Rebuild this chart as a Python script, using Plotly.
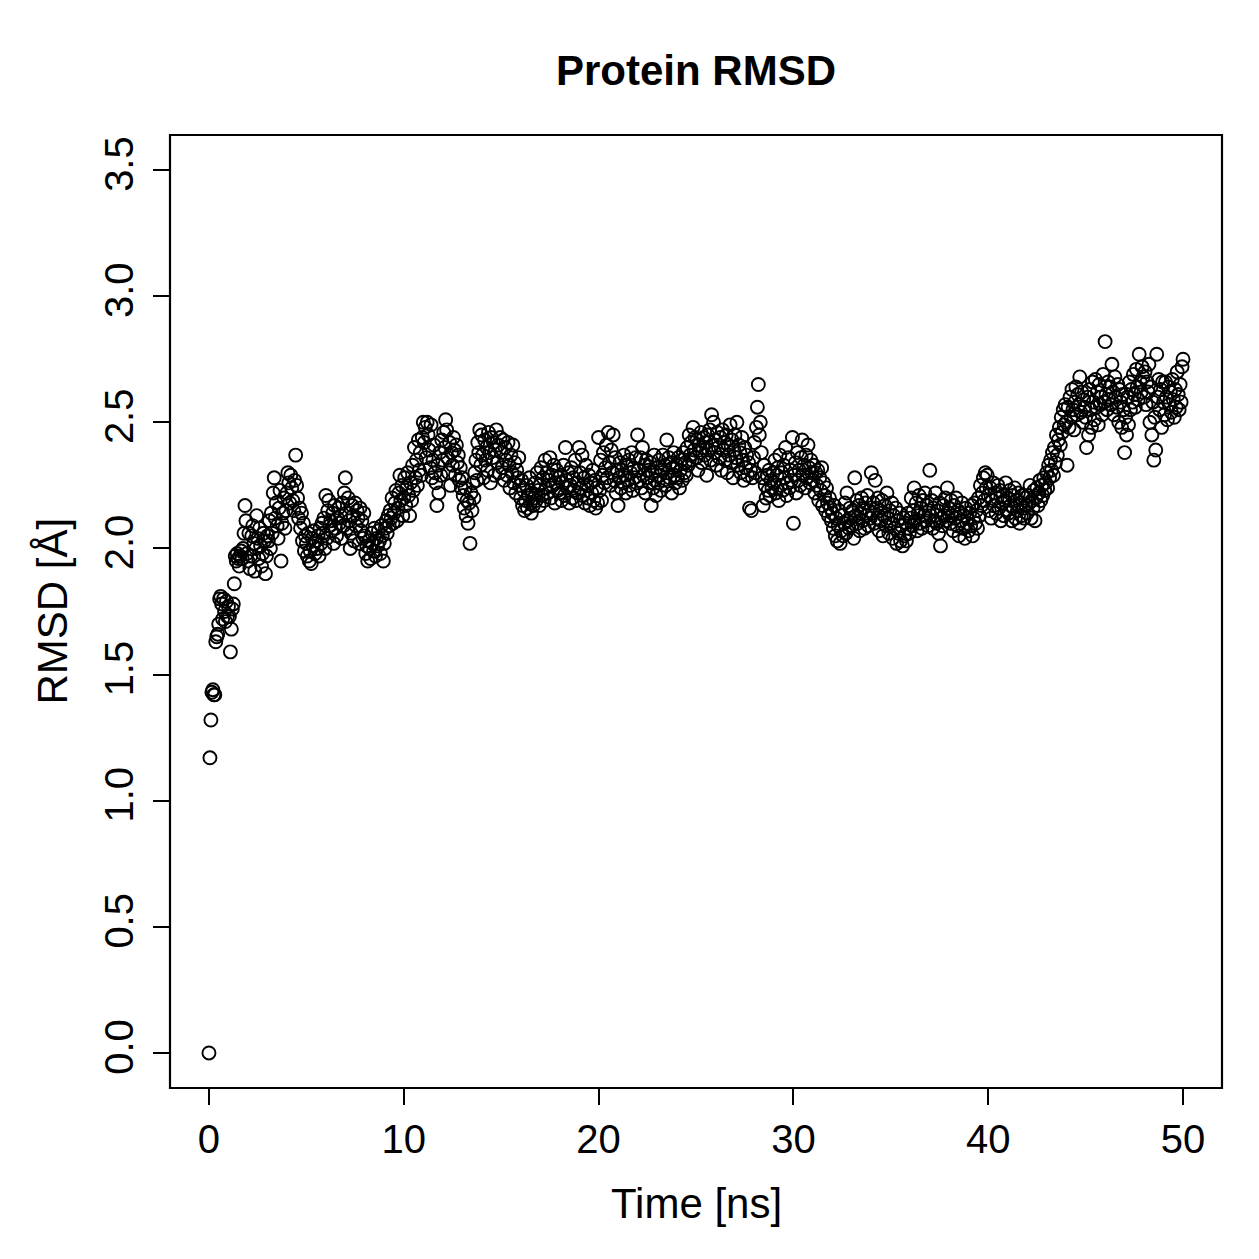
import numpy as np
import plotly.graph_objects as go

# sampling step of the trajectory (ns)
time_step = 0.05

rmsd = [
    0.00, 1.17, 1.32, 1.43, 1.44, 1.42, 1.42, 1.63, 1.65, 1.66, 1.70, 1.80, 1.81, 1.78, 1.72, 1.80, 1.75, 1.71, 1.79, 1.73,
    1.77, 1.73, 1.59, 1.68, 1.76, 1.78, 1.86, 1.97, 1.95, 1.98, 1.96, 1.93, 1.97, 1.99, 1.96, 2.00, 2.06, 2.17, 2.11, 1.98,
    1.95, 2.06, 1.92, 1.97, 2.05, 2.09, 2.02, 1.91, 2.00, 2.13, 2.04, 1.96, 2.08, 2.01, 1.93, 1.98, 2.06, 2.03, 1.90, 1.97,
    2.05, 2.03, 2.11, 2.00, 2.14, 2.06, 2.22, 2.28, 2.12, 2.18, 2.09, 2.04, 2.16, 2.23, 1.95, 2.10, 2.14, 2.20, 2.08, 2.15,
    2.22, 2.30, 2.26, 2.18, 2.29, 2.24, 2.19, 2.15, 2.27, 2.37, 2.25, 2.20, 2.12, 2.16, 2.08, 2.14, 2.03, 2.10, 1.99, 2.05,
    2.02, 1.97, 2.06, 1.95, 1.99, 1.94, 2.04, 2.01, 2.07, 1.98, 2.03, 2.00, 2.05, 1.97, 2.08, 2.02, 2.10, 2.06, 2.12, 2.00,
    2.21, 2.04, 2.15, 2.19, 2.09, 2.11, 2.07, 2.14, 2.02, 2.17, 2.08, 2.05, 2.12, 2.16, 2.10, 2.13, 2.04, 2.18, 2.09, 2.22,
    2.28, 2.14, 2.08, 2.20, 2.11, 2.00, 2.06, 2.17, 2.13, 2.03, 2.18, 2.09, 2.15, 2.12, 2.02, 2.16, 2.07, 2.11, 2.04, 2.14,
    2.05, 1.98, 2.01, 1.95, 2.03, 2.00, 1.96, 2.06, 2.02, 1.99, 2.08, 1.97, 2.04, 2.01, 2.07, 2.03, 1.98, 2.09, 2.05, 1.95,
    2.02, 2.08, 2.11, 2.06, 2.13, 2.09, 2.15, 2.12, 2.20, 2.10, 2.14, 2.18, 2.23, 2.11, 2.16, 2.22, 2.29, 2.19, 2.25, 2.13,
    2.20, 2.28, 2.17, 2.24, 2.30, 2.21, 2.13, 2.26, 2.19, 2.33, 2.23, 2.40, 2.28, 2.35, 2.25, 2.43, 2.31, 2.38, 2.29, 2.44,
    2.50, 2.42, 2.48, 2.36, 2.50, 2.45, 2.39, 2.32, 2.49, 2.28, 2.35, 2.41, 2.30, 2.26, 2.17, 2.33, 2.22, 2.38, 2.29, 2.43,
    2.35, 2.46, 2.40, 2.51, 2.47, 2.36, 2.30, 2.42, 2.25, 2.38, 2.33, 2.44, 2.39, 2.29, 2.41, 2.34, 2.37, 2.27, 2.32, 2.24,
    2.28, 2.21, 2.16, 2.24, 2.13, 2.19, 2.10, 2.18, 2.02, 2.22, 2.15, 2.26, 2.20, 2.30, 2.35, 2.27, 2.42, 2.38, 2.47, 2.33,
    2.45, 2.37, 2.28, 2.43, 2.35, 2.40, 2.31, 2.46, 2.38, 2.26, 2.44, 2.36, 2.42, 2.29, 2.39, 2.47, 2.34, 2.41, 2.30, 2.44,
    2.38, 2.32, 2.43, 2.27, 2.40, 2.35, 2.29, 2.42, 2.33, 2.24, 2.37, 2.30, 2.41, 2.26, 2.34, 2.22, 2.31, 2.28, 2.36, 2.25,
    2.20, 2.27, 2.17, 2.23, 2.15, 2.19, 2.25, 2.16, 2.21, 2.28, 2.18, 2.14, 2.22, 2.17, 2.20, 2.26, 2.19, 2.30, 2.23, 2.17,
    2.25, 2.32, 2.21, 2.28, 2.19, 2.35, 2.24, 2.30, 2.22, 2.27, 2.36, 2.20, 2.29, 2.25, 2.33, 2.18, 2.26, 2.31, 2.23, 2.28,
    2.22, 2.29, 2.19, 2.26, 2.33, 2.21, 2.40, 2.27, 2.24, 2.30, 2.18, 2.25, 2.32, 2.20, 2.28, 2.23, 2.35, 2.19, 2.26, 2.22,
    2.40, 2.30, 2.24, 2.37, 2.21, 2.28, 2.18, 2.33, 2.25, 2.20, 2.29, 2.17, 2.26, 2.22, 2.31, 2.19, 2.27, 2.16, 2.24, 2.18,
    2.44, 2.23, 2.35, 2.19, 2.29, 2.38, 2.26, 2.32, 2.41, 2.28, 2.46, 2.34, 2.25, 2.39, 2.30, 2.45, 2.27, 2.36, 2.22, 2.31,
    2.17, 2.28, 2.34, 2.24, 2.31, 2.26, 2.37, 2.29, 2.22, 2.33, 2.27, 2.35, 2.25, 2.30, 2.38, 2.23, 2.32, 2.28, 2.36, 2.26,
    2.45, 2.31, 2.27, 2.36, 2.24, 2.40, 2.29, 2.33, 2.22, 2.35, 2.28, 2.31, 2.26, 2.34, 2.17, 2.30, 2.24, 2.37, 2.27, 2.21,
    2.32, 2.26, 2.35, 2.29, 2.23, 2.31, 2.37, 2.27, 2.33, 2.25, 2.43, 2.30, 2.36, 2.28, 2.34, 2.22, 2.32, 2.38, 2.29, 2.26,
    2.33, 2.28, 2.36, 2.24, 2.31, 2.35, 2.27, 2.38, 2.30, 2.34, 2.29, 2.40, 2.33, 2.45, 2.37, 2.42, 2.35, 2.48, 2.39, 2.44,
    2.36, 2.43, 2.31, 2.41, 2.38, 2.46, 2.34, 2.40, 2.44, 2.37, 2.42, 2.29, 2.45, 2.39, 2.47, 2.35, 2.53, 2.41, 2.50, 2.38,
    2.43, 2.33, 2.46, 2.40, 2.36, 2.44, 2.31, 2.47, 2.39, 2.42, 2.35, 2.45, 2.30, 2.41, 2.37, 2.49, 2.34, 2.43, 2.28, 2.39,
    2.45, 2.36, 2.50, 2.33, 2.41, 2.38, 2.30, 2.44, 2.35, 2.27, 2.40, 2.32, 2.37, 2.29, 2.34, 2.16, 2.31, 2.15, 2.28, 2.36,
    2.42, 2.30, 2.48, 2.56, 2.65, 2.45, 2.50, 2.38, 2.28, 2.17, 2.33, 2.25, 2.20, 2.29, 2.23, 2.31, 2.21, 2.27, 2.24, 2.30,
    2.26, 2.35, 2.22, 2.29, 2.32, 2.19, 2.37, 2.25, 2.30, 2.23, 2.33, 2.28, 2.40, 2.21, 2.26, 2.36, 2.24, 2.31, 2.27, 2.44,
    2.10, 2.29, 2.34, 2.22, 2.38, 2.27, 2.31, 2.25, 2.36, 2.43, 2.29, 2.33, 2.24, 2.37, 2.28, 2.41, 2.32, 2.26, 2.35, 2.30,
    2.27, 2.33, 2.22, 2.30, 2.25, 2.31, 2.19, 2.28, 2.23, 2.32, 2.17, 2.26, 2.21, 2.15, 2.24, 2.18, 2.13, 2.20, 2.16, 2.11,
    2.14, 2.08, 2.17, 2.05, 2.12, 2.03, 2.09, 2.15, 2.02, 2.07, 2.13, 2.05, 2.10, 2.18, 2.06, 2.22, 2.11, 2.08, 2.16, 2.12,
    2.09, 2.15, 2.04, 2.28, 2.13, 2.19, 2.10, 2.17, 2.07, 2.14, 2.20, 2.11, 2.16, 2.08, 2.18, 2.13, 2.21, 2.09, 2.15, 2.12,
    2.30, 2.14, 2.18, 2.10, 2.27, 2.16, 2.12, 2.20, 2.07, 2.15, 2.11, 2.19, 2.05, 2.13, 2.17, 2.09, 2.22, 2.12, 2.06, 2.15,
    2.10, 2.18, 2.04, 2.13, 2.08, 2.16, 2.02, 2.11, 2.06, 2.14, 2.03, 2.09, 2.01, 2.12, 2.05, 2.10, 2.03, 2.08, 2.14, 2.06,
    2.12, 2.20, 2.09, 2.15, 2.24, 2.11, 2.18, 2.07, 2.14, 2.21, 2.10, 2.16, 2.08, 2.19, 2.13, 2.22, 2.11, 2.17, 2.09, 2.15,
    2.31, 2.13, 2.19, 2.08, 2.16, 2.11, 2.22, 2.10, 2.15, 2.06, 2.18, 2.01, 2.12, 2.09, 2.17, 2.13, 2.20, 2.11, 2.24, 2.14,
    2.16, 2.10, 2.19, 2.13, 2.07, 2.17, 2.12, 2.20, 2.09, 2.15, 2.05, 2.14, 2.11, 2.18, 2.08, 2.13, 2.04, 2.16, 2.10, 2.12,
    2.07, 2.14, 2.09, 2.17, 2.05, 2.12, 2.18, 2.10, 2.15, 2.08, 2.20, 2.13, 2.25, 2.17, 2.22, 2.28, 2.19, 2.30, 2.24, 2.29,
    2.21, 2.15, 2.24, 2.12, 2.19, 2.26, 2.17, 2.22, 2.14, 2.20, 2.25, 2.16, 2.23, 2.11, 2.18, 2.21, 2.13, 2.19, 2.26, 2.15,
    2.20, 2.14, 2.23, 2.17, 2.11, 2.21, 2.16, 2.24, 2.12, 2.19, 2.15, 2.22, 2.10, 2.18, 2.13, 2.21, 2.16, 2.12, 2.20, 2.17,
    2.14, 2.21, 2.18, 2.25, 2.12, 2.19, 2.16, 2.23, 2.11, 2.20, 2.24, 2.17, 2.22, 2.27, 2.19, 2.25, 2.21, 2.28, 2.23, 2.26,
    2.30, 2.24, 2.33, 2.28, 2.35, 2.31, 2.38, 2.29, 2.40, 2.34, 2.45, 2.37, 2.43, 2.48, 2.41, 2.52, 2.46, 2.55, 2.49, 2.57,
    2.50, 2.33, 2.56, 2.48, 2.60, 2.52, 2.63, 2.55, 2.47, 2.58, 2.64, 2.53, 2.61, 2.57, 2.68, 2.54, 2.62, 2.50, 2.59, 2.56,
    2.52, 2.40, 2.60, 2.45, 2.63, 2.55, 2.48, 2.66, 2.58, 2.51, 2.67, 2.56, 2.62, 2.49, 2.65, 2.57, 2.60, 2.53, 2.69, 2.58,
    2.82, 2.61, 2.55, 2.66, 2.59, 2.64, 2.57, 2.73, 2.62, 2.53, 2.68, 2.60, 2.56, 2.65, 2.50, 2.63, 2.58, 2.48, 2.61, 2.55,
    2.38, 2.52, 2.45, 2.60, 2.49, 2.66, 2.55, 2.63, 2.58, 2.69, 2.61, 2.56, 2.71, 2.64, 2.59, 2.77, 2.66, 2.62, 2.72, 2.68,
    2.60, 2.70, 2.57, 2.66, 2.62, 2.73, 2.50, 2.64, 2.45, 2.58, 2.35, 2.52, 2.39, 2.77, 2.60, 2.67, 2.55, 2.63, 2.48, 2.66,
    2.58, 2.53, 2.66, 2.60, 2.51, 2.64, 2.57, 2.62, 2.54, 2.67, 2.59, 2.52, 2.63, 2.56, 2.70, 2.61, 2.55, 2.65, 2.58, 2.72,
    2.75,
]

time_ns = np.round(np.arange(len(rmsd)) * time_step, 2)

x_ticks = [0, 10, 20, 30, 40, 50]
y_ticks = [0.0, 0.5, 1.0, 1.5, 2.0, 2.5, 3.0, 3.5]
y_tick_labels = ["0.0", "0.5", "1.0", "1.5", "2.0", "2.5", "3.0", "3.5"]

FONT = "Liberation Sans, Arial, Helvetica, sans-serif"

# plot frame in pixels
L, R, T, B = 170, 1222, 135, 1088
PW, PH = R - L, B - T

fig = go.Figure()
fig.add_trace(go.Scatter(
    x=time_ns, y=rmsd, mode="markers",
    marker=dict(symbol="circle-open", size=13, color="black",
                line=dict(width=1.9, color="black")),
    showlegend=False, hoverinfo="x+y",
))

fig.update_layout(
    width=1259, height=1259,
    margin=dict(l=L, r=1259 - R, t=T, b=1259 - B),
    paper_bgcolor="white", plot_bgcolor="white",
    font=dict(family=FONT, size=40, color="black"),
    xaxis=dict(
        range=[-2, 52], showgrid=False, zeroline=False, showline=False,
        ticks="outside", ticklen=16, tickwidth=2, tickcolor="black",
        tickvals=x_ticks, ticktext=[str(v) for v in x_ticks],
        tickfont=dict(size=40, family=FONT), ticklabelstandoff=0,
    ),
    yaxis=dict(
        range=[-0.139, 3.639], showgrid=False, zeroline=False, showline=False,
        ticks="outside", ticklen=16, tickwidth=2, tickcolor="black",
        tickvals=y_ticks, ticktext=y_tick_labels, tickangle=-90,
        tickfont=dict(size=40, family=FONT), ticklabelstandoff=4,
    ),
    shapes=[dict(type="rect", xref="paper", yref="paper", x0=0, x1=1, y0=0, y1=1,
                 line=dict(color="black", width=2.2), fillcolor="rgba(0,0,0,0)")],
    annotations=[
        dict(text="<b>Protein RMSD</b>", xref="paper", yref="paper",
             x=0.5, y=(B - 70) / PH, yanchor="middle",
             xanchor="center", showarrow=False, font=dict(size=42, family=FONT)),
        dict(text="Time [ns]", xref="paper", yref="paper", x=0.5,
             y=-(1203 - B) / PH, yanchor="middle", xanchor="center",
             showarrow=False, font=dict(size=42, family=FONT)),
        dict(text="RMSD [Å]", xref="paper", yref="paper",
             x=-(L - 52) / PW, y=0.5, xanchor="center", yanchor="middle",
             textangle=-90, showarrow=False, font=dict(size=42, family=FONT)),
    ],
)

fig.write_html("out.html")
